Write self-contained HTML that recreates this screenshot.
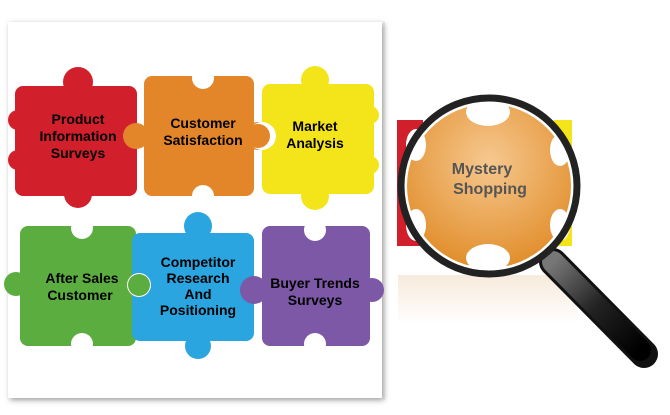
<!DOCTYPE html>
<html><head><style>
body{margin:0;width:670px;height:410px;background:#fff;overflow:hidden}
text{font-family:"Liberation Sans",sans-serif;font-weight:bold;font-size:14px;text-anchor:middle}
</style></head><body>
<svg width="670" height="410" viewBox="0 0 670 410">
<defs>
<filter id="sh" x="-5%" y="-5%" width="110%" height="110%"><feGaussianBlur stdDeviation="3"/></filter>
<radialGradient id="lg" cx="0.5" cy="0.35" r="0.7"><stop offset="0" stop-color="#f6c88f"/><stop offset="1" stop-color="#e08a25"/></radialGradient>
<linearGradient id="hg" x1="0" y1="0" x2="1" y2="1"><stop offset="0" stop-color="#777"/><stop offset="0.5" stop-color="#222"/><stop offset="1" stop-color="#000"/></linearGradient>
<linearGradient id="rf" x1="0" y1="0" x2="0" y2="1"><stop offset="0" stop-color="#f3dcc4"/><stop offset="1" stop-color="#fff"/></linearGradient>
</defs>
<rect x="10" y="24" width="374" height="376" fill="#999" filter="url(#sh)"/>
<rect x="8" y="22" width="374" height="376" fill="#fff"/>
<line x1="384" y1="22" x2="384" y2="400" stroke="#ccc"/>
<g>
<g fill="#d11f2c"><rect x="15" y="86" width="122" height="110" rx="8"/><circle cx="78" cy="82" r="15"/><circle cx="78" cy="194" r="14"/><circle cx="18" cy="120" r="10"/><circle cx="18" cy="160" r="10"/></g>
<g fill="#e3862a"><rect x="144" y="76" width="110" height="120" rx="8"/><circle cx="136" cy="136" r="13"/><circle cx="258" cy="136" r="14"/></g>
<circle cx="203" cy="78" r="11" fill="#fff"/><circle cx="203" cy="196" r="11" fill="#fff"/>
<g fill="#f4e51a"><rect x="262" y="84" width="112" height="110" rx="8"/><circle cx="315" cy="80" r="14"/><circle cx="315" cy="196" r="14"/><circle cx="370" cy="115" r="9"/><circle cx="370" cy="165" r="9"/></g>
<circle cx="262" cy="136" r="14" fill="#fff"/><circle cx="258" cy="136" r="12" fill="#e3862a"/>
<g fill="#5cad3f"><rect x="20" y="226" width="116" height="120" rx="8"/><circle cx="16" cy="284" r="12"/></g>
<circle cx="82" cy="228" r="11" fill="#fff"/><circle cx="82" cy="344" r="11" fill="#fff"/>
<g fill="#2aa5e0"><rect x="132" y="233" width="122" height="108" rx="8"/><circle cx="198" cy="226" r="14"/><circle cx="198" cy="346" r="13"/></g>
<circle cx="139" cy="285" r="12" fill="#fff"/><circle cx="139" cy="285" r="11" fill="#5cad3f"/>
<g fill="#7d58a6"><rect x="262" y="226" width="108" height="120" rx="8"/><circle cx="254" cy="290" r="14"/><circle cx="372" cy="290" r="12"/></g>
<circle cx="315" cy="230" r="11" fill="#fff"/><circle cx="315" cy="344" r="11" fill="#fff"/>
<circle cx="254" cy="290" r="11" fill="#7d58a6"/>
</g>
<text x="78" y="124">Product</text><text x="78" y="141">Information</text><text x="78" y="158">Surveys</text>
<text x="203" y="128">Customer</text><text x="203" y="145">Satisfaction</text>
<text x="315" y="131">Market</text><text x="315" y="148">Analysis</text>
<text x="82" y="283">After Sales</text><text x="80" y="300">Customer</text>
<text x="198" y="267">Competitor</text><text x="198" y="283">Research</text><text x="198" y="299">And</text><text x="198" y="315">Positioning</text>
<text x="315" y="288">Buyer Trends</text><text x="315" y="305">Surveys</text>
<rect x="398" y="275" width="180" height="50" fill="url(#rf)" opacity="0.6"/>
<rect x="397" y="120" width="26" height="126" fill="#d11f2c"/>
<rect x="554" y="120" width="18" height="126" fill="#f4e51a"/>
<line x1="553" y1="262" x2="644" y2="354" stroke="#111" stroke-width="28" stroke-linecap="round"/>
<line x1="553" y1="262" x2="640" y2="350" stroke="url(#hg)" stroke-width="22" stroke-linecap="round"/>
<circle cx="489" cy="186" r="88" fill="#fff"/>
<circle cx="489" cy="186" r="82" fill="url(#lg)"/>
<ellipse cx="488" cy="112" rx="22" ry="14" fill="#fff"/><ellipse cx="488" cy="258" rx="22" ry="14" fill="#fff"/>
<ellipse cx="416" cy="145" rx="10" ry="16" fill="#fff"/><ellipse cx="416" cy="225" rx="10" ry="16" fill="#fff"/>
<ellipse cx="560" cy="150" rx="10" ry="16" fill="#fff"/><ellipse cx="560" cy="225" rx="10" ry="16" fill="#fff"/>
<circle cx="489" cy="186" r="88" fill="none" stroke="#222" stroke-width="7"/>
<text x="482" y="174" style="font-size:16px;fill:#555">Mystery</text>
<text x="490" y="194" style="font-size:16px;fill:#555">Shopping</text>
</svg>
</body></html>
